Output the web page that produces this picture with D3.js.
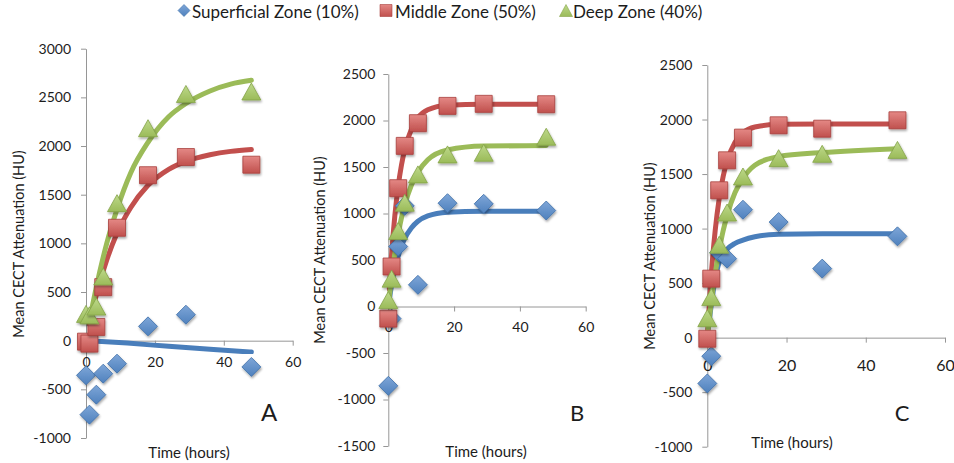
<!DOCTYPE html>
<html>
<head>
<meta charset="utf-8">
<script src="https://cdn.jsdelivr.net/npm/d3@7"></script>
<style>
  body { margin: 0; background: #fff; }
  svg text { font-family: Lato, "Open Sans", sans-serif; fill: #1c1c1c; }
</style>
</head>
<body>
<svg id="chart" width="954" height="463"></svg>
<script>
// ---- data -------------------------------------------------------------
const times = [0, 1, 3, 5, 9, 18, 29, 48];
const seriesNames = ["Superficial Zone (10%)", "Middle Zone (50%)", "Deep Zone (40%)"];
const panelLabels = ["A", "B", "C"];
const xTickValues = [0, 20, 40, 60];
const yTicksA = [-1000, -500, 0, 500, 1000, 1500, 2000, 2500, 3000];
const yTicksB = [-1500, -1000, -500, 0, 500, 1000, 1500, 2000, 2500];
const yTicksC = [-1000, -500, 0, 500, 1000, 1500, 2000, 2500];

// measured mean attenuation (HU) at each time point
const superficialA = [-356, -760, -555, -339, -236, 147, 267, -270];
const middleA      = [-10, -30, 141, 550, 1160, 1700, 1887, 1808];
const deepA        = [270, 255, 345, 654, 1408, 2178, 2530, 2555];

const superficialB = [-853, -130, 645, 1082, 233, 1111, 1104, 1032];
const middleB      = [-130, 430, 1272, 1727, 1971, 2157, 2179, 2175];
const deepB        = [64, 294, 806, 1111, 1415, 1630, 1648, 1820];

const superficialC = [-420, -170, 780, 724, 1173, 1060, 633, 929];
const middleC      = [-10, 541, 1351, 1626, 1834, 1947, 1916, 1993];
const deepC        = [174, 367, 847, 1143, 1473, 1641, 1681, 1717];

// fitted uptake curves
const fitTimesSuperficialA = [1, 12, 24, 36, 48];
const fitSuperficialA      = [0, -25, -58, -88, -117];
const fitTimesA   = [1, 2, 3, 4, 6, 9, 13, 18, 24, 29, 36, 42, 48];
const fitMiddleA  = [171, 328, 471, 600, 827, 1104, 1368, 1596, 1761, 1843, 1910, 1945, 1964];
const fitDeepA    = [199, 383, 552, 710, 997, 1350, 1726, 2038, 2301, 2437, 2566, 2636, 2675];

const fitTimesB        = [0.3, 1, 2, 3, 4, 5, 7, 9, 12, 18, 29, 48];
const fitSuperficialB  = [74, 227, 403, 541, 648, 731, 845, 917, 974, 1014, 1024, 1025];
const fitMiddleB       = [187, 564, 980, 1291, 1520, 1690, 1903, 2029, 2116, 2165, 2175, 2175];
const fitDeepB         = [100, 314, 570, 780, 953, 1094, 1304, 1445, 1577, 1683, 1725, 1730];

const fitTimesC        = [0.1, 1, 2, 3, 4, 5, 7, 9, 12, 18, 29, 48];
const fitSuperficialC  = [30, 300, 540, 690, 760, 810, 865, 895, 925, 948, 952, 952];
const fitMiddleC       = [68, 578, 984, 1274, 1478, 1619, 1792, 1876, 1931, 1956, 1960, 1960];
const fitDeepC         = [40, 330, 590, 800, 980, 1120, 1330, 1460, 1580, 1660, 1697, 1733];

// ---- styling ------------------------------------------------------------
const colors = {
  fill:  ["#4f81bd", "#c0504d", "#9bbb59"],
  light: ["#7ea6d8", "#e48885", "#bdd98a"],
  edge:  ["#3d6fa8", "#a8403d", "#84a347"],
  line:  ["#4a7ebb", "#c2504d", "#9bbb59"]
};

// marker outlines, centred on the data point
const markerPaths = [
  "M0,-9.5L9.5,0L0,9.5L-9.5,0Z",          // diamond
  "M-8.5,-8.5H8.5V8.5H-8.5Z",             // square
  "M0,-9L9.5,8L-9.5,8Z"                   // triangle
];
const legendPaths = [
  "M0,-6L6,0L0,6L-6,0Z",
  "M-6,-6H6V6H-6Z",
  "M0,-6L6.5,6L-6.5,6Z"
];

const panels = [
  { label: panelLabels[0], yTicks: yTicksA, yDomain: [-1000, 3000], yRange: [438, 48.7], xRange: [86, 292.7],
    measured: [superficialA, middleA, deepA],
    fits: [[fitTimesSuperficialA, fitSuperficialA], [fitTimesA, fitMiddleA], [fitTimesA, fitDeepA]],
    yTitle: [19, 244], xTitle: [189, 458], letter: [269, 421], letterSize: 24,
    yLabelGap: 15, xLabelOffset: 21, xLabelSize: 14 },
  { label: panelLabels[1], yTicks: yTicksB, yDomain: [-1500, 2500], yRange: [446, 74], xRange: [388.3, 585.7],
    measured: [superficialB, middleB, deepB],
    fits: [[fitTimesB, fitSuperficialB], [fitTimesB, fitMiddleB], [fitTimesB, fitDeepB]],
    yTitle: [320, 250], xTitle: [486, 457], letter: [577, 421], letterSize: 22,
    yLabelGap: 13, xLabelOffset: 21, xLabelSize: 14 },
  { label: panelLabels[2], yTicks: yTicksC, yDomain: [-1000, 2500], yRange: [446.7, 65], xRange: [707.3, 945],
    measured: [superficialC, middleC, deepC],
    fits: [[fitTimesC, fitSuperficialC], [fitTimesC, fitMiddleC], [fitTimesC, fitDeepC]],
    yTitle: [650, 256], xTitle: [792, 448], letter: [902, 421], letterSize: 22,
    yLabelGap: 15, xLabelOffset: 28, xLabelSize: 16 }
];

const svg = d3.select("#chart");
const defs = svg.append("defs");

// soft drop shadow under the markers
const shadow = defs.append("filter").attr("id", "markerShadow")
  .attr("x", "-40%").attr("y", "-40%").attr("width", "180%").attr("height", "180%");
shadow.append("feDropShadow").attr("dx", 0.8).attr("dy", 1.8)
  .attr("stdDeviation", 1.3).attr("flood-color", "#000").attr("flood-opacity", 0.35);

// glossy vertical gradient for each series
colors.fill.forEach((c, i) => {
  const g = defs.append("linearGradient").attr("id", "grad" + i)
    .attr("x1", 0).attr("y1", 0).attr("x2", 0).attr("y2", 1);
  g.append("stop").attr("offset", "0%").attr("stop-color", colors.light[i]);
  g.append("stop").attr("offset", "100%").attr("stop-color", c);
});

const lineBlur = defs.append("filter").attr("id", "lineSoft");
lineBlur.append("feGaussianBlur").attr("stdDeviation", 0.4);

panels.forEach(p => {
  const x = d3.scaleLinear().domain([0, 60]).range(p.xRange);
  const y = d3.scaleLinear().domain(p.yDomain).range(p.yRange);
  const g = svg.append("g");

  // y axis
  const yAxis = g.append("g").attr("transform", `translate(${p.xRange[0]},0)`)
    .call(d3.axisLeft(y).tickValues(p.yTicks).tickSize(5).tickSizeOuter(0)
      .tickFormat(d => String(d)));
  yAxis.selectAll("text").attr("x", -p.yLabelGap).style("font-size", "14px");

  // x axis crossing at zero
  const xAxis = g.append("g").attr("transform", `translate(0,${y(0)})`)
    .call(d3.axisBottom(x).tickValues(xTickValues).tickSize(5).tickSizeOuter(0)
      .tickFormat(d => String(d)));
  xAxis.selectAll("text").attr("y", p.xLabelOffset).attr("dy", "0.35em")
    .style("font-size", p.xLabelSize + "px");

  g.selectAll(".domain, .tick line").attr("stroke", "#969696").attr("stroke-width", 1);

  // axis titles
  g.append("text")
    .attr("transform", `translate(${p.yTitle[0]},${p.yTitle[1]}) rotate(-90)`)
    .attr("text-anchor", "middle").attr("dy", "0.35em")
    .style("font-size", "14.5px").text("Mean CECT Attenuation (HU)");
  g.append("text").attr("x", p.xTitle[0]).attr("y", p.xTitle[1])
    .attr("text-anchor", "middle").style("font-size", "15px").text("Time (hours)");
  g.append("text").attr("x", p.letter[0]).attr("y", p.letter[1])
    .attr("text-anchor", "middle").style("font-size", p.letterSize + "px").text(p.label);

  // fitted curves
  const line = d3.line().x(d => x(d[0])).y(d => y(d[1])).curve(d3.curveMonotoneX);
  p.fits.forEach(([ts, vs], i) => {
    g.append("path").datum(ts.map((t, k) => [t, vs[k]]))
      .attr("d", line).attr("fill", "none")
      .attr("stroke", colors.line[i]).attr("stroke-width", 5)
      .attr("stroke-linecap", "round").attr("stroke-linejoin", "round")
      .attr("filter", "url(#lineSoft)");
  });

  // measured points
  p.measured.forEach((vals, i) => {
    g.append("g").selectAll("path")
      .data(times.map((t, k) => [t, vals[k]]))
      .join("path")
      .attr("transform", d => `translate(${x(d[0])},${y(d[1])})`)
      .attr("d", markerPaths[i])
      .attr("fill", `url(#grad${i})`)
      .attr("stroke", colors.edge[i]).attr("stroke-width", 0.8)
      .attr("filter", "url(#markerShadow)");
  });
});

// legend
const legendX = [184, 386, 566];
const legendTextX = [192, 395, 573];
const legend = svg.append("g");
seriesNames.forEach((name, i) => {
  legend.append("path").attr("transform", `translate(${legendX[i]},10.5)`)
    .attr("d", legendPaths[i]).attr("fill", `url(#grad${i})`)
    .attr("stroke", colors.edge[i]).attr("stroke-width", 0.6);
  legend.append("text").attr("x", legendTextX[i]).attr("y", 17.5)
    .style("font-size", "17px").text(name);
});
</script>
</body>
</html>
